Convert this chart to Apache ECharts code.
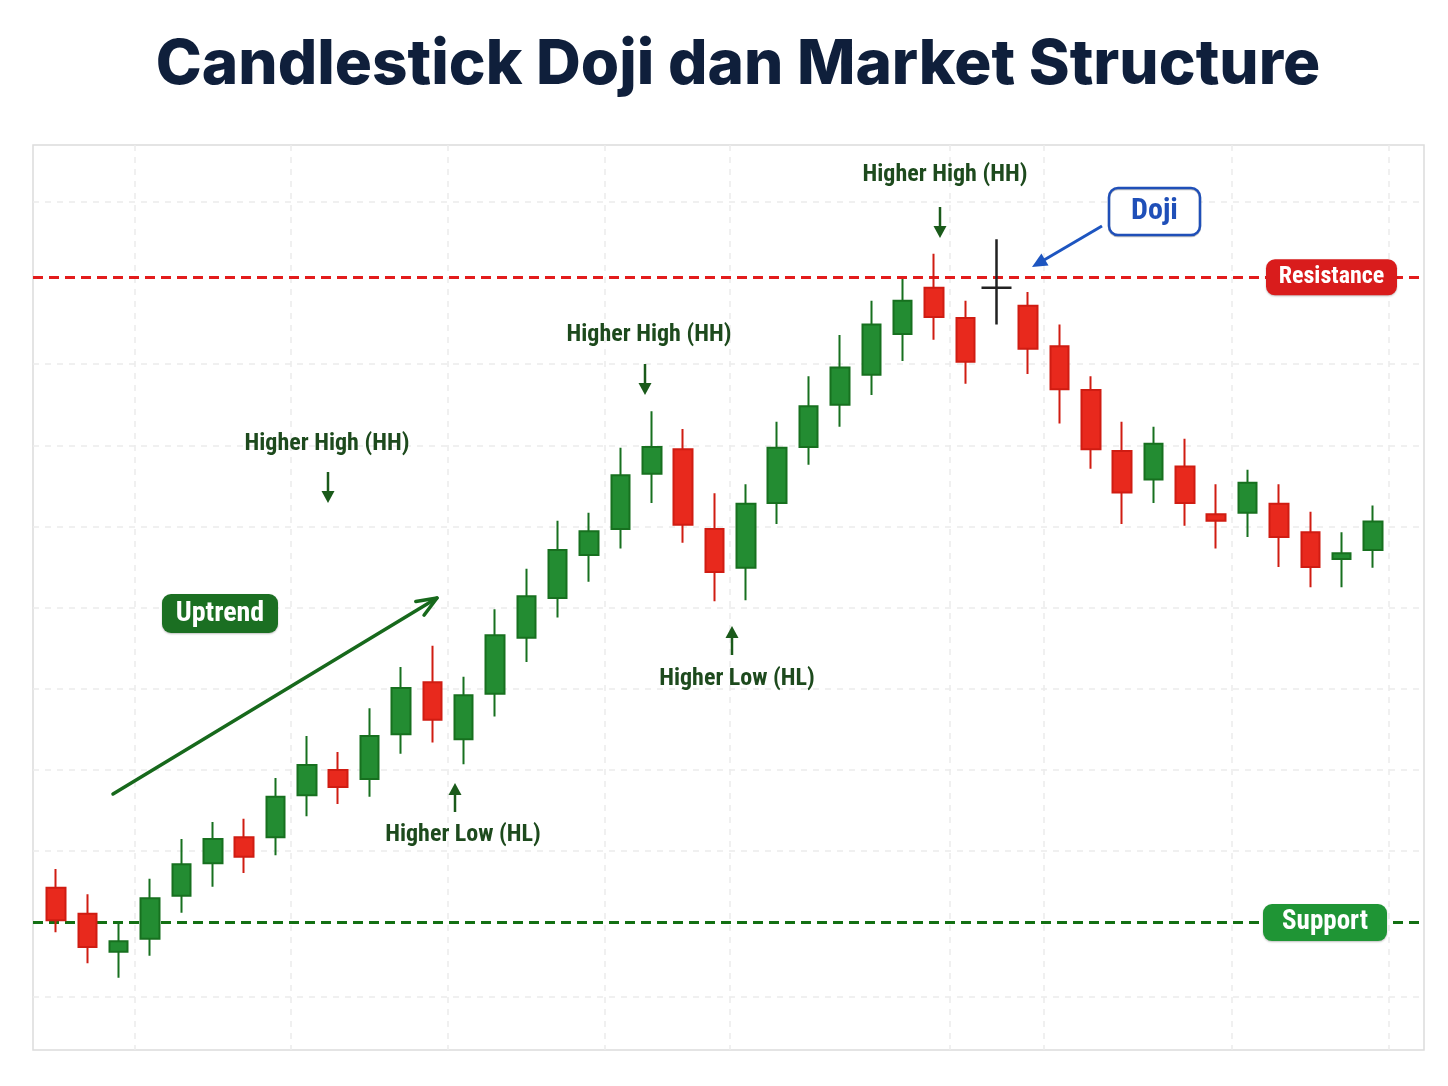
<!DOCTYPE html>
<html>
<head>
<meta charset="utf-8">
<script src="https://cdn.jsdelivr.net/npm/echarts@6/dist/echarts.min.js"></script>
<style>
html,body{margin:0;padding:0;background:#ffffff;}
#main{width:1448px;height:1086px;}
</style>
</head>
<body>
<div id="main"></div>
<script>
// ---- data ----
const categories = ['1','2','3','4','5','6','7','8','9','10','11','12','13','14','15','16','17','18','19','20','21','22','23','24','25','26','27','28','29','30','31','32','33','34','35','36','37','38','39','40','41','42','43'];
const opens  = [105.5,102.3,97.6,99.2,104.5,108.5,111.7,111.7,116.9,120.0,118.9,124.4,130.8,123.8,129.4,136.3,141.2,146.5,149.7,156.5,159.5,149.7,144.9,152.9,159.8,165.0,168.7,173.7,179.4,175.7,179.4,177.2,172.2,166.8,159.3,155.8,157.4,151.5,151.7,152.8,149.3,146.0,147.1];
const closes = [101.5,98.2,98.9,104.2,108.4,111.5,109.3,116.7,120.6,117.9,124.2,130.1,126.2,129.2,136.6,141.4,147.1,149.4,156.3,159.8,150.2,144.4,152.8,159.7,164.8,169.6,174.9,177.8,175.8,170.3,179.4,171.9,166.9,159.5,154.2,160.2,152.9,150.7,155.4,148.7,145.0,146.7,150.6];
const lows   = [100.0,96.2,94.4,97.1,102.4,105.6,107.3,109.5,114.3,115.8,116.7,122.0,123.4,120.7,126.6,133.3,138.8,143.2,147.3,152.9,148.0,140.8,140.9,150.3,157.6,162.3,166.2,170.4,173.0,167.6,174.9,168.8,162.7,157.1,150.3,152.9,150.1,147.3,148.7,145.0,142.5,142.5,144.9];
const highs  = [107.8,104.7,101.4,106.6,111.5,113.6,114.0,119.0,124.2,122.2,127.6,132.7,135.3,131.5,139.8,144.8,150.7,151.7,159.7,164.2,162.0,154.1,155.2,162.9,168.5,173.6,177.8,180.5,183.6,177.8,185.4,178.9,174.9,168.5,162.9,162.3,160.8,155.2,157.0,155.2,151.8,149.3,152.6];
const dojiIndex = 30;
const supportLevel = 101.2;
const resistanceLevel = 180.7;
const gridLevels = [92, 110, 120, 130, 140, 150, 160, 170, 190];
const vGridAt = [3, 8, 13, 18, 22, 29, 32, 38];
const titleText = 'Candlestick Doji dan Market Structure';

// ---- build ----
const mainData = categories.map((c, i) => i === dojiIndex ? '-' : [opens[i], closes[i], lows[i], highs[i]]);
const dojiData = categories.map((c, i) => i === dojiIndex ? [opens[i], closes[i], lows[i], highs[i]] : '-');

const Y_MIN = 85.5, Y_MAX = 197;
const GREEN = '#238c32', GREEN_DARK = '#17701f', RED = '#e8291d', RED_DARK = '#d01c12';
const ANN = '#1d4a1d';
const NARROW = '"Liberation Sans Narrow", "Roboto Condensed", Roboto, sans-serif';

const chart = echarts.init(document.getElementById('main'), null, {renderer: 'canvas'});

chart.setOption({
  animation: false,
  backgroundColor: '#ffffff',
  title: {
    text: titleText,
    left: 733,
    textAlign: 'center',
    top: 29,
    textStyle: {fontFamily: 'Inter', fontWeight: 800, fontSize: 62, color: '#0f1f3b'}
  },
  grid: [
    {left: 40.3, right: 59.3, top: 145, bottom: 36, show: false},
    {left: 33, right: 24, top: 145, bottom: 36, show: true, borderColor: '#dcdcdc', borderWidth: 1.5, backgroundColor: '#ffffff', z: 0}
  ],
  xAxis: [
    {type: 'category', gridIndex: 0, data: categories, boundaryGap: true,
     axisLine: {show: false}, axisTick: {show: false}, axisLabel: {show: false},
     splitLine: {show: true, interval: (i) => vGridAt.indexOf(i) >= 0, lineStyle: {color: '#ebebeb', width: 1.5, type: [6, 6]}}},
    {type: 'value', gridIndex: 1, min: 0, max: 1, show: false}
  ],
  yAxis: [
    {type: 'value', gridIndex: 0, min: Y_MIN, max: Y_MAX, show: false, splitLine: {show: false}},
    {type: 'value', gridIndex: 1, min: Y_MIN, max: Y_MAX, show: false, splitLine: {show: false}}
  ],
  series: [
    {
      type: 'line', xAxisIndex: 1, yAxisIndex: 1, data: [], silent: true, z: 1,
      markLine: {
        silent: true, z: 1, symbol: ['none', 'none'], label: {show: false}, animation: false,
        data: gridLevels.map(v => ({yAxis: v, lineStyle: {color: '#ebebeb', width: 1.5, type: [6, 6]}}))
          .concat([
            {yAxis: resistanceLevel, lineStyle: {color: '#e31c1c', width: 3, type: [10, 6]}},
            {yAxis: supportLevel, lineStyle: {color: '#137013', width: 3, type: [10, 6]}}
          ])
      }
    },
    {
      type: 'candlestick', xAxisIndex: 0, yAxisIndex: 0, data: mainData, barWidth: 19, z: 3,
      itemStyle: {color: GREEN, color0: RED, borderColor: GREEN_DARK, borderColor0: RED_DARK, borderWidth: 2}
    },
    {
      type: 'candlestick', xAxisIndex: 0, yAxisIndex: 0, data: dojiData, barWidth: 30, z: 3,
      itemStyle: {color: '#222222', color0: '#222222', borderColor: '#222222', borderColor0: '#222222', borderColorDoji: '#222222', borderWidth: 2.5}
    }
  ]
});

// ---- annotations ----
function arrow(x1, y1, x2, y2, color, w, hl, hw, open) {
  const dx = x2 - x1, dy = y2 - y1, len = Math.hypot(dx, dy);
  const ux = dx / len, uy = dy / len, px = -uy, py = ux;
  const bx = x2 - ux * hl, by = y2 - uy * hl;
  const els = [];
  if (open) {
    els.push({type: 'line', shape: {x1, y1, x2, y2}, style: {stroke: color, lineWidth: w, lineCap: 'round'}, z: 50});
    els.push({type: 'polyline', shape: {points: [[bx + px * hw, by + py * hw], [x2, y2], [bx - px * hw, by - py * hw]]},
      style: {stroke: color, lineWidth: w, lineCap: 'round', lineJoin: 'round', fill: null}, z: 50});
  } else {
    els.push({type: 'line', shape: {x1, y1, x2: bx + ux, y2: by + uy}, style: {stroke: color, lineWidth: w}, z: 50});
    els.push({type: 'polygon', shape: {points: [[x2, y2], [bx + px * hw, by + py * hw], [bx - px * hw, by - py * hw]]}, style: {fill: color}, z: 50});
  }
  return els;
}
function annText(text, x, y, size, color, weight, family) {
  return {type: 'text', x, y, z: 60, style: {text, fill: color, font: (weight || 'bold') + ' ' + size + 'px ' + (family || NARROW), textAlign: 'center', textVerticalAlign: 'middle'}};
}
function badge(text, cx, cy, w, h, fill, textColor, size, stroke) {
  return {type: 'group', x: cx, y: cy, z: 70, children: [
    {type: 'rect', shape: {x: -w / 2, y: -h / 2, width: w, height: h, r: 9},
     style: {fill, stroke: stroke || null, lineWidth: stroke ? 2.5 : 0, shadowBlur: stroke ? 0 : 2, shadowColor: 'rgba(0,0,0,0.25)', shadowOffsetY: 1}, z: 70},
    {type: 'text', style: {text, fill: textColor, font: 'bold ' + size + 'px ' + NARROW, textAlign: 'center', textVerticalAlign: 'middle'}, z: 71}
  ]};
}

const yRes = chart.convertToPixel({yAxisIndex: 0}, resistanceLevel);
const ySup = chart.convertToPixel({yAxisIndex: 0}, supportLevel);

const graphics = [].concat(
  [annText('Higher High (HH)', 945, 175, 24, ANN),
   annText('Higher High (HH)', 649, 335, 24, ANN),
   annText('Higher High (HH)', 327, 444, 24, ANN),
   annText('Higher Low (HL)', 463, 835, 24, ANN),
   annText('Higher Low (HL)', 737, 679, 24, ANN)],
  arrow(940, 207, 940, 238, '#1a5a1a', 2.5, 12, 6.5),
  arrow(645, 364, 645, 395, '#1a5a1a', 2.5, 12, 6.5),
  arrow(328, 472, 328, 503, '#1a5a1a', 2.5, 12, 6.5),
  arrow(455, 812, 455, 783, '#1a5a1a', 2.5, 12, 6.5),
  arrow(732, 655, 732, 626, '#1a5a1a', 2.5, 12, 6.5),
  arrow(113, 794, 437, 598, '#17691c', 3.5, 20, 8, true),
  arrow(1102, 226, 1032, 267, '#1d55c0', 3, 15, 7),
  [badge('Uptrend', 220, 613.5, 116, 39, '#1b6f22', '#ffffff', 28),
   badge('Resistance', 1331.5, yRes, 131, 36, '#d91c1c', '#ffffff', 24),
   badge('Support', 1325, ySup, 124, 37, '#1f9535', '#ffffff', 27),
   badge('Doji', 1154.5, 211.5, 91, 47, '#ffffff', '#1f4fb8', 30, '#1f4fb8')]
);

chart.setOption({graphic: graphics});
</script>
</body>
</html>
